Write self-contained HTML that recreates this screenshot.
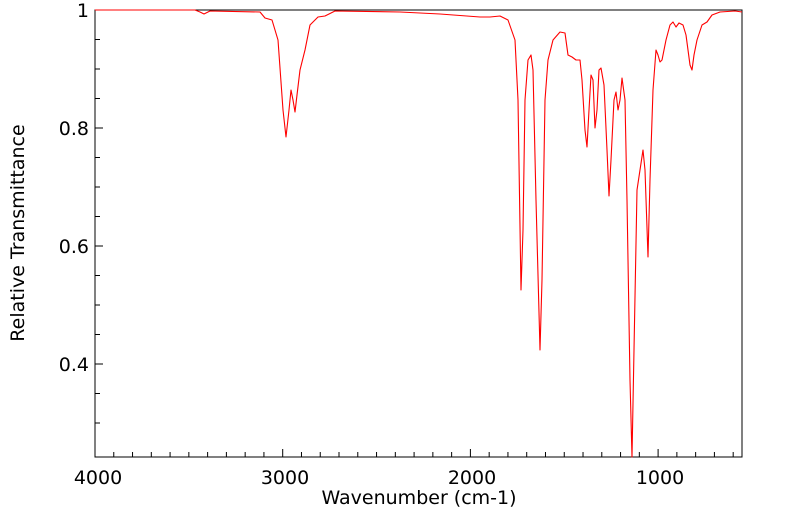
<!DOCTYPE html>
<html><head><style>body{margin:0;background:#fff}svg text{font-family:"DejaVu Sans","Liberation Sans",sans-serif;font-size:19px;fill:#000}</style></head>
<body>
<svg width="799" height="516" xmlns="http://www.w3.org/2000/svg">
<rect x="95" y="10" width="647" height="447" fill="none" stroke="#000" stroke-width="1"/>
<g id="ticks" stroke="#000" stroke-width="1"></g>
<polyline fill="none" stroke="#f00" stroke-width="1.1" stroke-linejoin="round" points="95,10 195,10 200,12 204,14 210,11 260,12 265,18 272,20 278,40 283,110 286,137 289,110 291,90 293,100 295,112 297,95 300,70 305,50 310,25 318,17 325,16 335,11 400,12 440,14 480,17 490,17 500,16 508,20 515,40 518,100 521,290 523,230 525,100 528,60 531,55 533,70 536,200 540,350 542,280 545,100 548,60 553,40 560,32 565,33 568,55 572,57 576,60 580,60 582,80 585,130 587,147 589,110 591,75 593,80 595,128 597,110 599,70 601,68 604,85 607,150 609,196 611,160 614,100 616,92 618,110 620,100 622,78 625,100 627,200 630,380 632,457 634,350 637,190 640,170 643,150 645,170 648,257 650,180 653,90 656,50 658,55 660,62 662,60 666,40 670,25 673,22 676,27 679,23 683,25 686,35 690,65 692,70 694,55 697,40 702,25 707,22 712,15 720,12 735,11 742,12"/>
<text x="98" y="484" text-anchor="middle">4000</text>
<text x="285" y="484" text-anchor="middle">3000</text>
<text x="472" y="484" text-anchor="middle">2000</text>
<text x="660" y="484" text-anchor="middle">1000</text>
<text x="89" y="17" text-anchor="end">1</text>
<text x="89" y="135" text-anchor="end">0.8</text>
<text x="89" y="253" text-anchor="end">0.6</text>
<text x="89" y="371" text-anchor="end">0.4</text>
<text x="419" y="504" text-anchor="middle">Wavenumber (cm-1)</text>
<text transform="translate(24,233) rotate(-90)" text-anchor="middle">Relative Transmittance</text>
</svg>
<script>
var g=document.getElementById('ticks'),s='';
for(var w=4000;w>=560;w-=100){var x=95+(4000-w)*0.1877;var L=(w%1000==0)?8:5;s+='<line x1="'+x+'" y1="457" x2="'+x+'" y2="'+(457-L)+'"/>';}
for(var v=1;v>=0.25;v-=0.05){var y=10+(1-v)*590;var L=(Math.abs(v*5-Math.round(v*5))<0.01)?8:5;s+='<line x1="95" y1="'+y+'" x2="'+(95+L)+'" y2="'+y+'"/>';}
g.innerHTML=s;
</script>
</body></html>
